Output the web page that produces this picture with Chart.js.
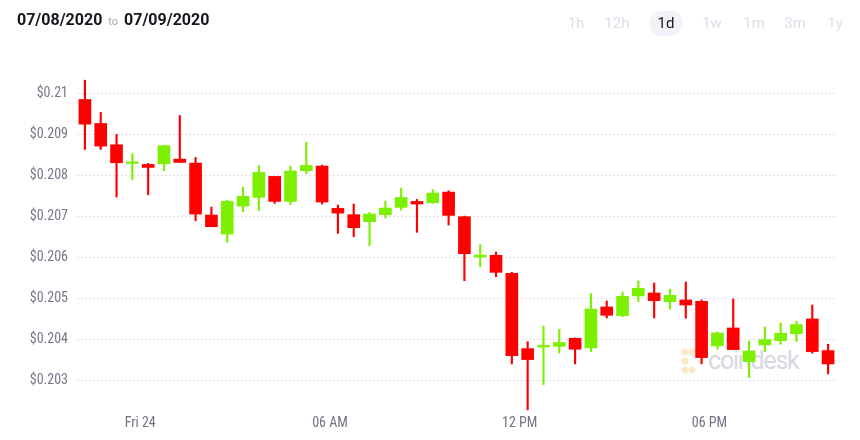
<!DOCTYPE html>
<html>
<head>
<meta charset="utf-8">
<script src="https://cdn.jsdelivr.net/npm/chart.js@4.4.1/dist/chart.umd.min.js"></script>
<style>
  body { margin: 0; background: #fff; }
  #wrap { position: relative; width: 860px; height: 440px; overflow: hidden; font-family: Roboto, "Liberation Sans", sans-serif; }
  #chart { position: absolute; left: 0; top: 0; }
  #range { position: absolute; left: 17px; top: 10px; font-size: 16px; font-weight: 700; color: #16161d; white-space: nowrap; }
  #range .to { font-size: 11px; font-weight: 400; color: #a3a6b4; margin: 0 2px; }
  .btn { position: absolute; top: 11px; height: 25px; line-height: 25px; font-size: 15px; color: #dcdfe9; transform: translateX(-50%); padding: 0 8px; border-radius: 12px; }
  .btn.on { color: #16161d; background: #f1f3f9; }
  #mark { position: absolute; left: 680px; top: 346px; display: flex; align-items: center; }
  #mark span { font-family: Roboto, sans-serif; font-size: 25px; color: #d6d8df; letter-spacing: -1.2px; margin-left: 4px; }
</style>
</head>
<body>
<div id="wrap">
  <div id="mark">
    <svg width="24" height="26" viewBox="0 0 24 26">
      <g fill="#fde9c6">
        <circle cx="5" cy="4" r="3.5"/><circle cx="12" cy="4" r="3.5"/>
        <circle cx="5" cy="13" r="3.5"/>
        <circle cx="5" cy="22" r="3.5"/><circle cx="12" cy="22" r="3.5"/>
        <circle cx="20" cy="13" r="1.8"/>
      </g>
    </svg>
    <span>coindesk</span>
  </div>
  <canvas id="chart" width="860" height="440"></canvas>
  <div id="range">07/08/2020 <span class="to">to</span> 07/09/2020</div>
</div>
<script>
// 30 minute candles, start time of each
const times = ['22:00','22:30','23:00','23:30','00:00','00:30','01:00','01:30','02:00','02:30','03:00','03:30',
  '04:00','04:30','05:00','05:30','06:00','06:30','07:00','07:30','08:00','08:30','09:00','09:30',
  '10:00','10:30','11:00','11:30','12:00','12:30','13:00','13:30','14:00','14:30','15:00','15:30',
  '16:00','16:30','17:00','17:30','18:00','18:30','19:00','19:30','20:00','20:30','21:00','21:30'];

const opens = [0.209854,0.209268,0.208748,0.208293,0.208268,0.208285,0.208398,0.208301,0.207033,0.206569,0.207252,0.207463,
  0.207976,0.207366,0.208114,0.208228,0.207195,0.207041,0.206870,0.207041,0.207220,0.207366,0.207333,0.207593,
  0.206992,0.206008,0.206049,0.205610,0.203772,0.203813,0.203829,0.204024,0.203789,0.204789,0.204577,0.205057,
  0.205130,0.204919,0.204959,0.204927,0.203837,0.204276,0.203455,0.203862,0.203967,0.204138,0.204496,0.203724];
const highs = [0.210325,0.209537,0.209000,0.208528,0.208293,0.208740,0.209463,0.208439,0.207228,0.207398,0.207715,0.208244,
  0.207976,0.208228,0.208805,0.208252,0.207276,0.207301,0.207098,0.207374,0.207691,0.207415,0.207650,0.207626,
  0.207008,0.206309,0.206130,0.205634,0.203943,0.204325,0.204244,0.204033,0.205114,0.204935,0.205154,0.205423,
  0.205374,0.205228,0.205398,0.204959,0.204179,0.204984,0.203959,0.204301,0.204398,0.204439,0.204837,0.203878];
const lows = [0.208634,0.208634,0.207472,0.207902,0.207528,0.208114,0.208317,0.206894,0.206748,0.206366,0.207114,0.207138,
  0.207317,0.207285,0.208041,0.207301,0.206585,0.206504,0.206285,0.206959,0.207154,0.206610,0.207317,0.206789,
  0.205431,0.205772,0.205528,0.203398,0.202276,0.202894,0.203667,0.203398,0.203699,0.204520,0.204553,0.204919,
  0.204520,0.204732,0.204512,0.203398,0.203756,0.203748,0.203065,0.203699,0.203878,0.203943,0.203659,0.203154];
const closes = [0.209252,0.208715,0.208309,0.208293,0.208195,0.208724,0.208317,0.207057,0.206748,0.207366,0.207488,0.208073,
  0.207366,0.208106,0.208244,0.207350,0.207081,0.206724,0.207057,0.207203,0.207463,0.207301,0.207569,0.207024,
  0.206089,0.206057,0.205634,0.203602,0.203504,0.203813,0.203919,0.203756,0.204740,0.204585,0.205049,0.205244,
  0.204943,0.205073,0.204837,0.203553,0.204154,0.203748,0.203715,0.203992,0.204146,0.204358,0.203699,0.203398];

const xTickHours = [0, 6, 12, 18];
const xTickLabels = ['Fri 24', '06 AM', '12 PM', '06 PM'];
const yTicks = [0.203, 0.204, 0.205, 0.206, 0.207, 0.208, 0.209, 0.21];
const ranges = ['1h', '12h', '1d', '1w', '1m', '3m', '1y'];
const activeRange = '1d';

const UP = '#7def00';
const DOWN = '#ff0000';
const AXIS_FONT = { family: '"Liberation Sans Narrow", "Roboto Condensed", Roboto, sans-serif', size: 14 };

// range buttons in the header
const btnX = [576, 617, 666, 712, 754, 795, 835];
ranges.forEach((r, i) => {
  const el = document.createElement('div');
  el.className = 'btn' + (r === activeRange ? ' on' : '');
  el.style.left = btnX[i] + 'px';
  el.textContent = r;
  document.getElementById('wrap').appendChild(el);
});

// candle time -> hours from midnight, centred in its half hour
function toHour(t) {
  const [h, m] = t.split(':').map(Number);
  return (h >= 22 ? h - 24 : h) + m / 60 + 0.25;
}

const colors = opens.map((o, i) => closes[i] >= o ? UP : DOWN);

new Chart(document.getElementById('chart'), {
  type: 'bar',
  data: {
    datasets: [
      {
        label: 'body',
        data: times.map((t, i) => ({ x: toHour(t), y: [opens[i], closes[i]] })),
        backgroundColor: colors,
        barThickness: 12,
        minBarLength: 1.5,
        grouped: false,
      },
      {
        label: 'wick',
        data: times.map((t, i) => ({ x: toHour(t), y: [lows[i], highs[i]] })),
        backgroundColor: colors,
        barThickness: 1.5,
        grouped: false,
      },
    ],
  },
  options: {
    responsive: false,
    animation: false,
    layout: { padding: { top: 73, right: 24, left: 0, bottom: 0 } },
    plugins: { legend: { display: false }, tooltip: { enabled: false } },
    scales: {
      x: {
        type: 'linear',
        min: -2,
        max: 22,
        offset: false,
        grid: { display: false, drawTicks: false },
        border: { display: false },
        afterFit: (s) => { s.height = 27; },
        afterBuildTicks: (s) => { s.ticks = xTickHours.map(v => ({ value: v })); },
        ticks: {
          autoSkip: false,
          maxRotation: 0,
          padding: 2,
          color: '#6f7383',
          font: AXIS_FONT,
          callback: (v) => xTickLabels[xTickHours.indexOf(v)],
        },
      },
      y: {
        min: 0.2022,
        max: 0.2105,
        z: 1,
        grid: { color: '#dcdee9', drawTicks: false },
        border: { display: false, dash: [2, 2] },
        afterFit: (s) => { s.width = 77; },
        afterBuildTicks: (s) => { s.ticks = yTicks.map(v => ({ value: v })); },
        ticks: {
          padding: 9,
          color: '#747888',
          font: AXIS_FONT,
          callback: (v) => '$' + v,
        },
      },
    },
  },
});
</script>
</body>
</html>
